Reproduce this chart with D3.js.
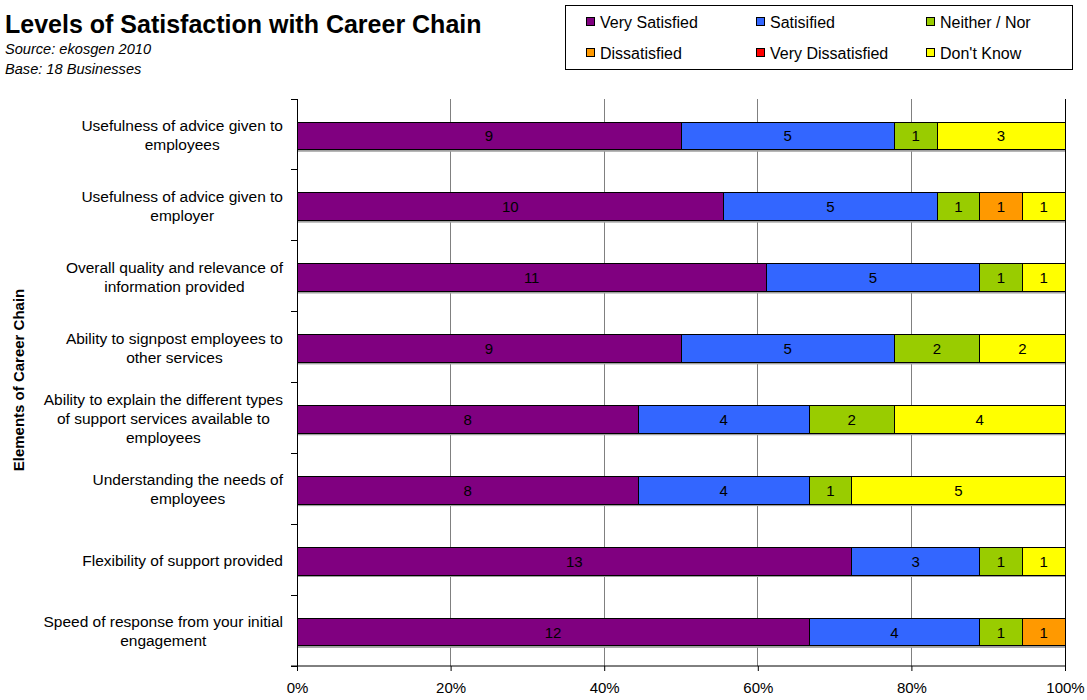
<!DOCTYPE html>
<html><head><meta charset="utf-8">
<script src="https://cdn.jsdelivr.net/npm/d3@7"></script>
<style>body{margin:0;background:#fff;}svg{display:block;font-family:"Liberation Sans",Arial,sans-serif;}</style>
</head><body><svg id="c" width="1087" height="700"></svg>
<script>
const categories = [
  "Usefulness of advice given to\nemployees",
  "Usefulness of advice given to\nemployer",
  "Overall quality and relevance of\ninformation provided",
  "Ability to signpost employees to\nother services",
  "Ability to explain the different types\nof support services available to\nemployees",
  "Understanding the needs of\nemployees",
  "Flexibility of support provided",
  "Speed of response from your initial\nengagement"
];
const seriesNames = ["Very Satisfied","Satisified","Neither / Nor","Dissatisfied","Very Dissatisfied","Don't Know"];
const verySatisfied    = [9,10,11,9,8,8,13,12];
const satisfied        = [5,5,5,5,4,4,3,4];
const neitherNor       = [1,1,1,2,2,1,1,1];
const dissatisfied     = [0,1,0,0,0,0,0,1];
const veryDissatisfied = [0,0,0,0,0,0,0,0];
const dontKnow         = [3,1,1,2,4,5,1,0];
const colors = ["#800080","#3366FF","#99CC00","#FF9900","#FF0000","#FFFF00"];
const tickValues = [0,0.2,0.4,0.6,0.8,1];

const series = [verySatisfied,satisfied,neitherNor,dissatisfied,veryDissatisfied,dontKnow];
const svg = d3.select("#c");
const L=297,R=1065,T=99,B=666;
const x = d3.scaleLinear().domain([0,1]).range([L,R]);
const y = d3.scaleBand().domain(d3.range(categories.length)).range([T+1.5,B+1.5]).paddingInner(0.61).paddingOuter(0.305);
const yb = d3.scaleBand().domain(d3.range(categories.length)).range([T,B]);

// gridlines
svg.append("g").selectAll("line").data(tickValues.slice(1)).join("line")
  .attr("x1",d=>x(d)).attr("x2",d=>x(d)).attr("y1",T).attr("y2",B)
  .attr("stroke",d=>d===1?"#000":"#808080").attr("stroke-width",1).attr("shape-rendering","crispEdges");

// bars
const rows = categories.map((c,i)=>{
  const vals = series.map(s=>s[i]);
  const tot = d3.sum(vals);
  let acc=0;
  return vals.map((v,k)=>{const o={i,k,v,x0:acc/tot,x1:(acc+v)/tot};acc+=v;return o;}).filter(o=>o.v>0);
});
const segs = rows.flat();
const g = svg.append("g");
g.selectAll("rect.sh").data(categories).join("rect")
  .attr("x",L).attr("width",R-L).attr("y",(d,i)=>y(i)+2).attr("height",y.bandwidth()).attr("fill","#a0a0a0");
g.selectAll("rect.seg").data(segs).join("rect")
  .attr("x",d=>x(d.x0)).attr("width",d=>x(d.x1)-x(d.x0))
  .attr("y",d=>y(d.i)).attr("height",y.bandwidth())
  .attr("fill",d=>colors[d.k]).attr("stroke","#000").attr("stroke-width",1).attr("shape-rendering","crispEdges");
g.selectAll("text.lb").data(segs).join("text")
  .attr("x",d=>(x(d.x0)+x(d.x1))/2).attr("y",d=>y(d.i)+y.bandwidth()/2+5.5)
  .attr("text-anchor","middle").attr("font-size",15).attr("fill","#000").text(d=>d.v);

// y axis
svg.append("line").attr("x1",L).attr("x2",L).attr("y1",T).attr("y2",B).attr("stroke","#000").attr("shape-rendering","crispEdges");
svg.append("g").selectAll("line").data(d3.range(categories.length+1)).join("line")
  .attr("x1",L-6).attr("x2",L).attr("y1",d=>T+d*yb.step()).attr("y2",d=>T+d*yb.step())
  .attr("stroke","#000").attr("shape-rendering","crispEdges");
// x axis
const xa = svg.append("g").attr("transform",`translate(0,${B})`).call(d3.axisBottom(x).tickValues(tickValues).tickFormat(d3.format(".0%")).tickSize(5).tickPadding(11));
xa.selectAll("text").attr("font-size",15).attr("font-family","Liberation Sans, Arial, sans-serif").attr("fill","#000");
xa.selectAll(".domain").attr("stroke","#000").attr("d",`M${L-6},0H${R}`);

// category labels
categories.forEach((c,i)=>{
  const lines=c.split("\n");
  const t = svg.append("text").attr("font-size",15.5).attr("fill","#000").attr("text-anchor","middle");
  const lh=19;
  const cy = yb(i)+yb.bandwidth()/2;
  const y0 = cy - (lines.length-1)*lh/2 + 6;
  lines.forEach((l,j)=>t.append("tspan").attr("y",y0+j*lh).text(l));
  let maxW=0;
  t.selectAll("tspan").each(function(){maxW=Math.max(maxW,this.getComputedTextLength());});
  t.selectAll("tspan").attr("x",283-maxW/2);
});

// axis title
svg.append("text").attr("transform","translate(24,380) rotate(-90)").attr("text-anchor","middle")
  .attr("font-size",15).attr("font-weight","bold").text("Elements of Career Chain");

// titles
svg.append("text").attr("x",5).attr("y",33).attr("font-size",25).attr("font-weight","bold").text("Levels of Satisfaction with Career Chain");
svg.append("text").attr("x",5).attr("y",53.5).attr("font-size",14.6).attr("font-style","italic").text("Source: ekosgen 2010");
svg.append("text").attr("x",5).attr("y",74).attr("font-size",14.6).attr("font-style","italic").text("Base: 18 Businesses");

// legend
svg.append("rect").attr("x",565.5).attr("y",5.5).attr("width",507).attr("height",64).attr("fill","#fff").attr("stroke","#000");
const lg = svg.append("g").selectAll("g").data(seriesNames).join("g")
  .attr("transform",(d,i)=>`translate(${586+(i%3)*170},${(i<3?22:53)})`);
lg.append("rect").attr("x",0.5).attr("y",-4.5).attr("width",8).attr("height",8).attr("fill",(d,i)=>colors[i]).attr("stroke","#000");
lg.append("text").attr("x",14).attr("y",5.5).attr("font-size",16).text(d=>d);
</script></body></html>
